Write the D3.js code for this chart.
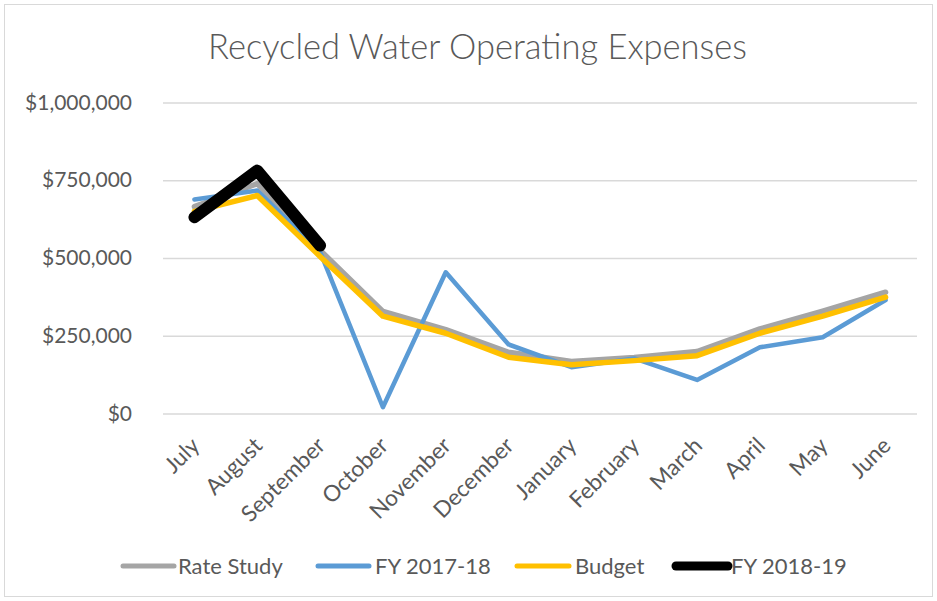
<!DOCTYPE html>
<html><head><meta charset="utf-8">
<script src="https://cdn.jsdelivr.net/npm/d3@7"></script>
<style>
html,body{margin:0;padding:0;background:#fff;}
svg{display:block;font-family:Lato,"Open Sans",sans-serif;}
</style></head>
<body>
<svg id="chart" width="937" height="601"></svg>
<script>
const months = ["July","August","September","October","November","December","January","February","March","April","May","June"];
const rateStudy = [665000,739000,525000,328000,270000,197000,167000,180000,199000,272000,329000,390000];
const fy1718 = [688000,717000,520000,20000,454000,222000,149000,177000,108000,213000,245000,365000];
const budget = [650000,701000,505000,313000,258000,181000,157000,170000,186000,258000,313000,374000];
const fy1819 = [631000,781000,540000];
const yTicks = [0,250000,500000,750000,1000000];
const seriesNames = ["Rate Study","FY 2017-18","Budget","FY 2018-19"];
const seriesColors = ["#a5a5a5","#5b9bd5","#ffc000","#000000"];
const seriesWidths = [5.5,4.5,5.5,12];

(function(){
const svg = d3.select("#chart");
const W = 937, H = 601;
const pLeft = 163, pRight = 917, pTop = 102.5, pBottom = 413.5;
const FONT = "Lato,'Open Sans',sans-serif";

svg.append("rect").attr("x",4.5).attr("y",4.5).attr("width",W-9).attr("height",H-9)
  .attr("fill","#fff").attr("stroke","#d9d9d9").attr("stroke-width",1);

const x = d3.scaleBand().domain(months).range([pLeft,pRight]);
const y = d3.scaleLinear().domain([0,1000000]).range([pBottom,pTop]);

svg.append("text").attr("x",477.5).attr("y",59).attr("text-anchor","middle")
  .attr("font-size",34.5).attr("font-weight",300).attr("fill","#595959")
  .text("Recycled Water Operating Expenses");

const yAxis = d3.axisLeft(y).tickValues(yTicks).tickSize(-(pRight-pLeft)).tickPadding(31)
  .tickFormat(d => "$" + d3.format(",")(d));
const ga = svg.append("g").attr("transform",`translate(${pLeft},0)`).call(yAxis);
ga.select(".domain").remove();
ga.selectAll(".tick line").attr("stroke","#d9d9d9").attr("stroke-width",1.5);
ga.selectAll(".tick text").attr("font-size",21).attr("fill","#595959").attr("font-family",FONT);

const xa = svg.append("g").attr("transform",`translate(0,${pBottom})`)
  .call(d3.axisBottom(x).tickSize(0).tickFormat(d=>d));
xa.select(".domain").remove();
xa.selectAll(".tick text")
  .attr("font-size",22.5).attr("fill","#595959").attr("font-family",FONT)
  .attr("text-anchor","end").attr("dy","0.35em")
  .attr("transform","translate(1,28) rotate(-45)").attr("x",0).attr("y",0);

const cx = d => x(d) + x.bandwidth()/2;
const line = d3.line().x((d,i)=>cx(months[i])).y(d=>y(d));
const data = [rateStudy, fy1718, budget, fy1819];
data.forEach((s,k)=>{
  svg.append("path").datum(s).attr("d",line).attr("fill","none")
    .attr("stroke",seriesColors[k]).attr("stroke-width",seriesWidths[k])
    .attr("stroke-linejoin","round").attr("stroke-linecap","round");
});

const legLine = [[123,174],[318,369],[517,569],[676,728]];
const legText = [178,375,575,731];
seriesNames.forEach((n,k)=>{
  svg.append("line").attr("x1",legLine[k][0]).attr("x2",legLine[k][1]).attr("y1",566).attr("y2",566)
    .attr("stroke",seriesColors[k]).attr("stroke-width",k===3?9:5).attr("stroke-linecap","round");
  svg.append("text").attr("x",legText[k]).attr("y",566).attr("dy","0.35em")
    .attr("font-size",22).attr("fill","#595959").attr("font-family",FONT).text(n);
});
})();
</script>
</body></html>
